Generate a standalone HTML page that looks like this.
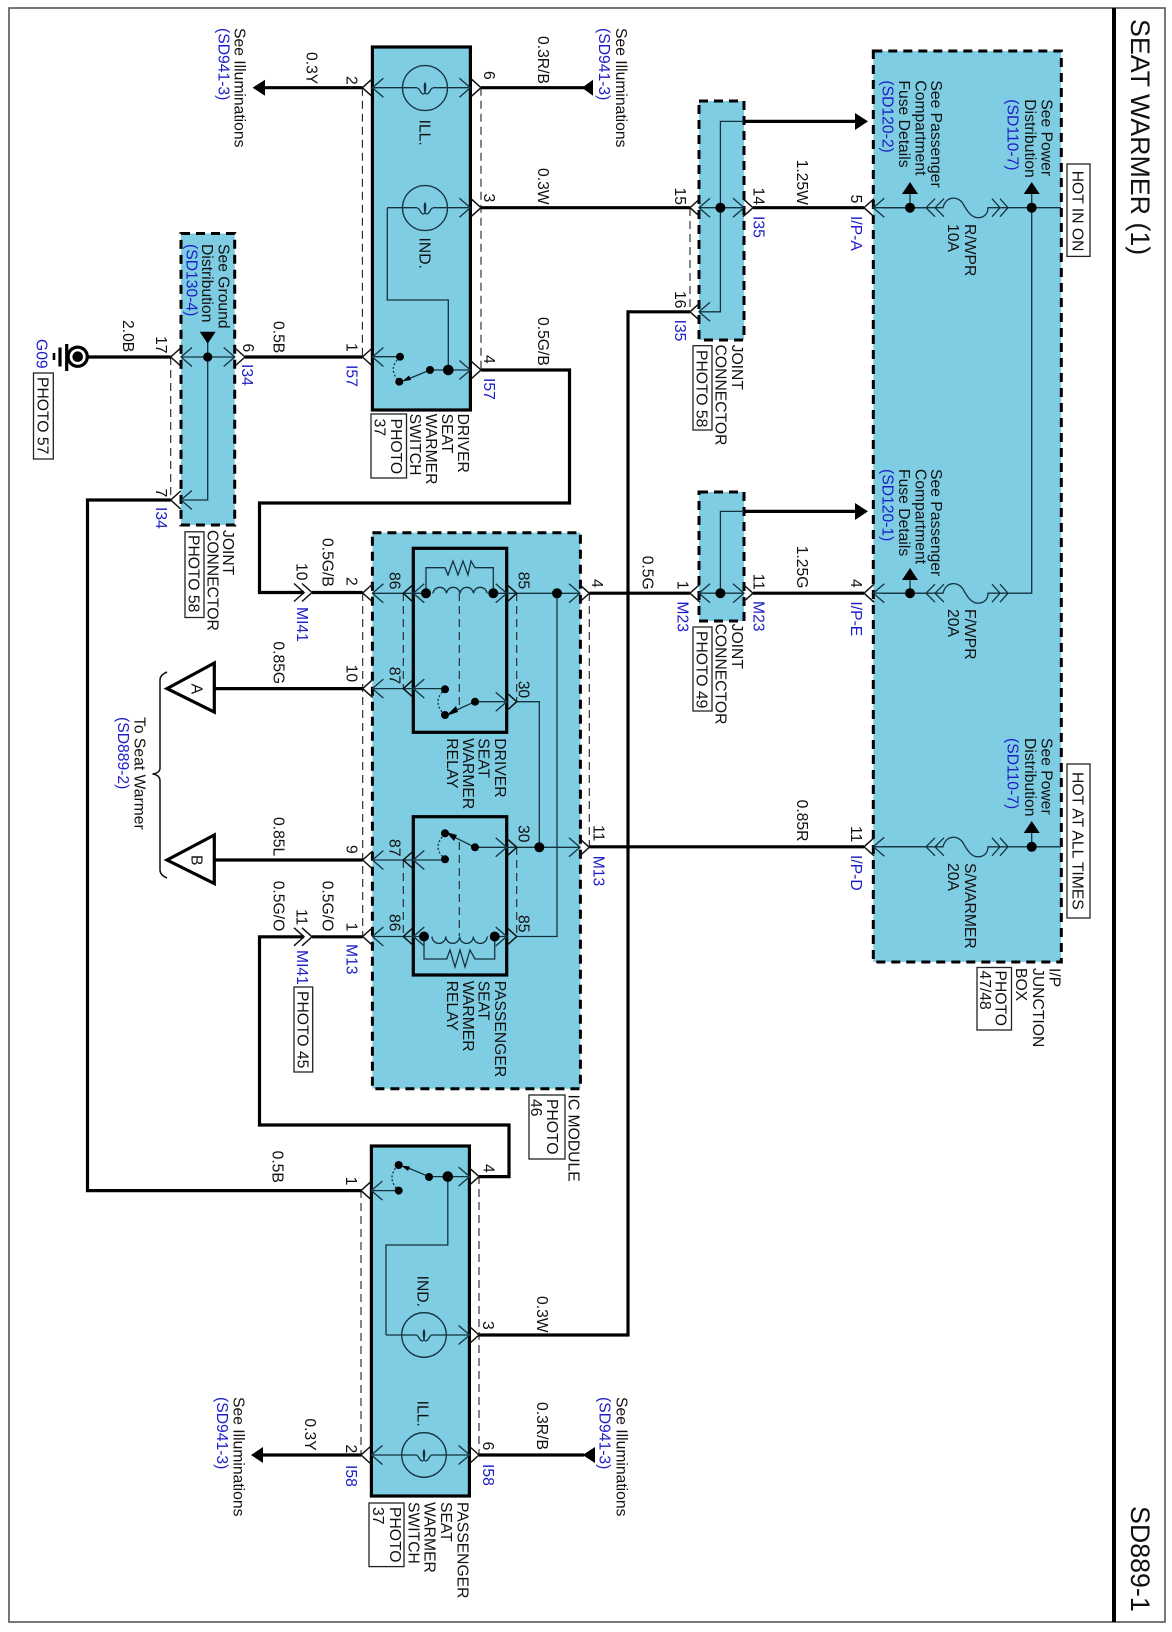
<!DOCTYPE html>
<html><head><meta charset="utf-8"><title>Seat Warmer (1)</title>
<style>
html,body{margin:0;padding:0;background:#fff}
svg{display:block}
text{font-family:"Liberation Sans",sans-serif;font-size:15.7px;fill:#111}
.b{fill:#1c1cc8}
text.h{font-size:26.8px}
.w{stroke:#000;stroke-width:3.2;fill:none}
.n{stroke:#15333f;stroke-width:1.3;fill:none}
.d{stroke:#222;stroke-width:1.1;fill:none;stroke-dasharray:8 5}
.x{stroke:#000;stroke-width:3;stroke-dasharray:9 6;fill:#7fcde3}
.s{stroke:#000;stroke-width:3.2;fill:#7fcde3}
.o{fill:none;stroke:#111;stroke-width:1.5}
.p{fill:none;stroke:#222;stroke-width:1.3}
.k{fill:#000}
.dt{fill:none;stroke:#15333f;stroke-width:1.3;stroke-dasharray:2 2}
</style></head><body>
<svg xmlns="http://www.w3.org/2000/svg" width="1172" height="1632" viewBox="0 0 1172 1632">
<defs>
<path id="R" class="o" d="M-10,-9L0,0L-10,9"/>
<path id="L" class="o" d="M10,-9L0,0L10,9"/>
<path id="r" class="n" d="M-11,-9.5L0,0L-11,9.5"/>
<path id="l" class="n" d="M11,-9.5L0,0L11,9.5"/>
<path id="tu" class="k" d="M-8,0L8,0L0,-12Z"/>
<path id="td" class="k" d="M-8,0L8,0L0,12Z"/>
<g id="fu">
<path class="n" d="M883,0H926M935,-9L926,0L935,9M944,-9L935,0L944,9M926,0H943C946,-12 958,-12 963,-4C968,5 972,10 978,10C985,10 988,5 988,0H1008M992,-9L1000,0L992,9M1000,-9L1008,0L1000,9"/>
</g>
<path id="lamp" class="n" d="M-8,0C-5,0 -5,6 -1.5,6C1,6 1,-5 0,-5C-1,-5 -1,6 1.5,6C5,6 5,0 8,0"/>
</defs>
<rect x="0" y="0" width="1172" height="1632" fill="#fff"/>
<!-- frame -->
<rect x="9" y="8" width="1156" height="1614" fill="none" stroke="#555" stroke-width="1.6"/>
<path d="M1114,8V1622" stroke="#000" stroke-width="4"/>
<text class="h" transform="translate(1131,19) rotate(90)">SEAT WARMER (1)</text>
<text class="h" transform="translate(1131,1506) rotate(90)">SD889-1</text>

<!-- component boxes -->
<rect class="s" x="372.4" y="47" width="98" height="363"/>
<rect class="s" x="371.4" y="1146" width="98" height="350"/>
<rect class="x" x="181" y="233.5" width="53.7" height="291.5"/>
<rect class="x" x="372.4" y="532.7" width="208" height="556"/>
<rect class="x" x="699" y="101" width="45" height="239"/>
<rect class="x" x="699" y="492" width="45" height="129"/>
<rect class="x" x="873.3" y="51" width="188" height="911"/>
<rect class="s" x="413.3" y="548.3" width="93.4" height="184"/>
<rect class="s" x="413.3" y="816.7" width="93.4" height="158.3"/>

<!-- dashed links -->
<path class="d" d="M362.4,87.7V357M481,87.7V370M170.7,357V500M362.7,593V936.5M589.3,593V847M403.3,593V688M516.7,593V701.7M403.3,860V936M516.7,847V936M459.3,593V708M459.3,842V936M690,208V312M361,1190V1455M479,1176V1455"/>

<!-- thick wires -->
<path class="w" d="M263,87.7H362.4M481,87.7H584M481,207.7H690M481,370H569.5V503H259.5V592.5H304M312,592.5H362.7"/>
<path class="w" d="M88,357H170.7M245,357H362.4M170.7,500H87.5V1190.6H361"/>
<path class="w" d="M215,688.6H362.7M215,860H362.7M312,936.8H362.7M304,936.8H259.5V1125H509V1176.6H479"/>
<path class="w" d="M589.3,593.2H690M753,593.2H864M589.3,846.8H864M753,207.7H864M690,311.8H628V1335H479"/>
<path class="w" d="M744,121.4H857M744,511.4H857M479,1455H584M261,1455H361"/>

<!-- arrowheads on wires -->
<path class="k" d="M252.6,87.7L265,79.7V95.7Z"/>
<path class="k" d="M582,87.7L593,79.7V95.7Z"/>
<path class="k" d="M251,1455L263,1447V1463Z"/>
<path class="k" d="M582.6,1455L595,1447V1463Z"/>
<path class="k" d="M868,121.4L855,113V130Z"/>
<path class="k" d="M868,511.4L855,503V520Z"/>

<!-- driver switch internals -->
<circle class="n" cx="425" cy="88" r="22.5"/><circle class="n" cx="425" cy="208" r="22.5"/>
<use href="#lamp" x="425" y="88"/><use href="#lamp" x="425" y="208"/>
<path class="n" d="M372.4,87.7H417M433,87.7H470.4M387.3,207.7H417M433,207.7H470.4M448.3,370V300H387.3V207.7M372.4,356.7H400M470.4,370H430L407,379.5"/>
<path class="dt" d="M400,357Q387,369 399,381"/>
<path class="k" d="M402,381.5L409,375.5L411,380Z"/>
<circle class="k" cx="448.3" cy="370" r="5.3"/><circle class="k" cx="430" cy="370" r="4"/><circle class="k" cx="399.3" cy="381.7" r="4"/><circle class="k" cx="400" cy="356.7" r="4"/>
<use href="#L" x="362.4" y="87.7"/><use href="#l" x="372.4" y="87.7"/><use href="#r" x="470.4" y="87.7"/><use href="#R" x="481" y="87.7"/>
<use href="#r" x="470.4" y="207.7"/><use href="#R" x="481" y="207.7"/>
<use href="#L" x="362.4" y="357"/><use href="#l" x="372.4" y="357"/><use href="#r" x="470.4" y="370"/><use href="#R" x="481" y="370"/>

<!-- passenger switch internals -->
<circle class="n" cx="424" cy="1335" r="22.3"/><circle class="n" cx="424" cy="1455" r="22.3"/>
<use href="#lamp" x="424" y="1335"/><use href="#lamp" x="424" y="1455"/>
<path class="n" d="M371.4,1455H416M432,1455H469.6M386,1335H416M432,1335H469.6M447.8,1176.6V1245H386V1335M371.4,1190.6H398.7M469.6,1176.6H429L407,1167.5"/>
<path class="dt" d="M398,1165Q386,1178 398,1190"/>
<path class="k" d="M401,1165.5L410,1166.5L408,1171Z"/>
<circle class="k" cx="447.8" cy="1176.6" r="5.3"/><circle class="k" cx="429" cy="1177" r="4"/><circle class="k" cx="398.7" cy="1165" r="4"/><circle class="k" cx="398.7" cy="1190.6" r="4"/>
<use href="#L" x="361" y="1455"/><use href="#l" x="371.4" y="1455"/><use href="#r" x="469.6" y="1455"/><use href="#R" x="479" y="1455"/>
<use href="#r" x="469.6" y="1335"/><use href="#R" x="479" y="1335"/>
<use href="#L" x="361" y="1190.6"/><use href="#l" x="371.4" y="1190.6"/><use href="#r" x="469.6" y="1176.6"/><use href="#R" x="479" y="1176.6"/>

<!-- ground joint -->
<path class="n" d="M181,357H234.7M207.7,343V500H181"/>
<use href="#td" x="207.7" y="331.7"/>
<circle class="k" cx="207.7" cy="357" r="4.6"/>
<use href="#L" x="170.7" y="357"/><use href="#l" x="181" y="357"/><use href="#r" x="234.7" y="357"/><use href="#R" x="245" y="357"/>
<use href="#L" x="170.7" y="500"/><use href="#l" x="181" y="500"/>
<circle cx="77.7" cy="356.7" r="9.6" fill="#fff" stroke="#000" stroke-width="3.2"/><circle class="k" cx="77.7" cy="356.7" r="5.3"/>
<path d="M66.7,344V371M60,347.5V366.5" stroke="#000" stroke-width="3.2"/><path d="M54,353V360" stroke="#000" stroke-width="2.6"/>

<!-- IC module relay 1 -->
<path class="n" d="M372.4,593.3H426M493.3,593.3H580M372.4,688.6H445M516.7,701.7H539.3V847.3M557,593.3V936.5H516.7M475,701.7H506.7M475,701.7L452,712"/>
<path class="n" d="M433,593.3a6.8,6.8 0 0 1 13.5,0a6.8,6.8 0 0 1 13.5,0a6.8,6.8 0 0 1 13.5,0a6.8,6.8 0 0 1 13.5,0"/>
<path class="n" d="M426,593V567.7H445L448,575L453,561L458,575L463,561L468,575L471,561L475,567.7H493.3V593"/>
<path class="dt" d="M445,689Q431,702 445,715"/>
<path class="k" d="M446,716L456,706L458,712Z"/>
<circle class="k" cx="426" cy="593.3" r="5"/><circle class="k" cx="493.3" cy="593.3" r="5"/><circle class="k" cx="557" cy="593.3" r="5"/>
<circle class="k" cx="445" cy="689.3" r="4"/><circle class="k" cx="445" cy="715" r="4"/><circle class="k" cx="475" cy="701.7" r="4"/>
<use href="#L" x="362.7" y="593"/><use href="#l" x="372.4" y="593.3"/><use href="#L" x="403.3" y="593.3"/><use href="#l" x="413.3" y="593.3"/>
<use href="#r" x="506.7" y="593.3"/><use href="#R" x="516.7" y="593.3"/><use href="#r" x="580" y="593.3"/><use href="#R" x="589.3" y="593.3"/>
<use href="#L" x="362.7" y="688.6"/><use href="#l" x="372.4" y="688.6"/><use href="#L" x="403.3" y="688.6"/><use href="#l" x="413.3" y="688.6"/>
<use href="#r" x="506.7" y="701.7"/><use href="#R" x="516.7" y="701.7"/>

<!-- IC module relay 2 -->
<path class="n" d="M372.4,936.5H424M494.7,936.5H506.7M372.4,860H445M475,847.3H580M475,847.3L452,836"/>
<path class="n" d="M432,936.5a6.9,6.9 0 0 0 13.8,0a6.9,6.9 0 0 0 13.8,0a6.9,6.9 0 0 0 13.8,0a6.9,6.9 0 0 0 13.8,0"/>
<path class="n" d="M424,937V959H446.7L450,950L455,967L460,950L465,967L470,950L475,959H494.7V937"/>
<path class="dt" d="M445,834Q431,847 445,859"/>
<path class="k" d="M446,832L457,835L454,841Z"/>
<circle class="k" cx="424" cy="936.5" r="5"/><circle class="k" cx="494.7" cy="936.5" r="5"/><circle class="k" cx="539.3" cy="847.3" r="5"/>
<circle class="k" cx="445" cy="833.3" r="4"/><circle class="k" cx="445" cy="859.3" r="4"/><circle class="k" cx="475" cy="847.3" r="4"/>
<use href="#L" x="362.7" y="860"/><use href="#l" x="372.4" y="860"/><use href="#L" x="403.3" y="860"/><use href="#l" x="413.3" y="860"/>
<use href="#L" x="362.7" y="936.5"/><use href="#l" x="372.4" y="936.5"/><use href="#L" x="403.3" y="936.5"/><use href="#l" x="413.3" y="936.5"/>
<use href="#r" x="506.7" y="847.3"/><use href="#R" x="516.7" y="847.3"/><use href="#r" x="580" y="847.3"/><use href="#R" x="589.3" y="847.3"/>
<use href="#r" x="506.7" y="936.5"/><use href="#R" x="516.7" y="936.5"/>

<!-- MI41 connectors -->
<use href="#R" x="304" y="592.5"/><use href="#R" x="312" y="592.5"/>
<use href="#R" x="304" y="936.8"/><use href="#R" x="312" y="936.8"/>

<!-- triangles A B, brace -->
<path d="M167,688.6L214.3,663V712Z" fill="#fff" stroke="#000" stroke-width="3.2"/>
<path d="M167,860L214.3,835V883.6Z" fill="#fff" stroke="#000" stroke-width="3.2"/>
<path class="o" d="M167,672Q160,675 160,680V768Q160,773 152.5,774Q160,775 160,781V870Q160,875 167,878"/>

<!-- joint I35 -->
<path class="n" d="M699,207.7H744M744,121.4H720.4V311.8H699"/>
<circle class="k" cx="720.4" cy="207.7" r="5"/>
<use href="#L" x="690" y="207.7"/><use href="#l" x="699" y="207.7"/><use href="#r" x="744" y="207.7"/><use href="#R" x="753" y="207.7"/>
<use href="#L" x="690" y="311.8"/><use href="#l" x="699" y="311.8"/>

<!-- joint M23 -->
<path class="n" d="M699,593.2H744M744,511.4H720.4V593.2"/>
<circle class="k" cx="720.4" cy="593.2" r="5"/>
<use href="#L" x="690" y="593.2"/><use href="#l" x="699" y="593.2"/><use href="#r" x="744" y="593.2"/><use href="#R" x="753" y="593.2"/>

<!-- I/P junction box -->
<use href="#fu" x="0" y="207.7"/><use href="#fu" x="0" y="593.2"/><use href="#fu" x="0" y="846.8"/>
<path class="n" d="M873.3,207.7H926M1008,207.7H1061M873.3,593.2H926M1008,593.2H1031.7V207.7M873.3,846.8H926M1008,846.8H1061M910,194V207M910,579V593M1031.7,194V207M1031.7,833V846"/>
<circle class="k" cx="910" cy="207.7" r="5"/><circle class="k" cx="1031.7" cy="207.7" r="5"/><circle class="k" cx="910" cy="593.2" r="5"/><circle class="k" cx="1031.7" cy="846.8" r="5"/>
<use href="#tu" x="910" y="194"/><use href="#tu" x="1031.7" y="194"/><use href="#tu" x="910" y="580"/><use href="#tu" x="1031.7" y="833"/>
<use href="#L" x="864" y="207.7"/><use href="#l" x="873.3" y="207.7"/>
<use href="#L" x="864" y="593.2"/><use href="#l" x="873.3" y="593.2"/>
<use href="#L" x="864" y="846.8"/><use href="#l" x="873.3" y="846.8"/>

<!-- photo boxes -->
<rect class="p" x="33.5" y="373" width="19.8" height="86" fill="#fff"/>
<rect class="p" x="185" y="531.8" width="19" height="85.7"/>
<rect class="p" x="371" y="414" width="35.5" height="64"/>
<rect class="p" x="369" y="1503" width="35" height="63.6"/>
<rect class="p" x="294" y="987" width="18.7" height="85"/>
<rect class="p" x="529" y="1095" width="36" height="64"/>
<rect class="p" x="693" y="345.7" width="19" height="84.3"/>
<rect class="p" x="693" y="627" width="19" height="84"/>
<rect class="p" x="977" y="967.5" width="34.5" height="62.5"/>
<rect class="p" x="1067" y="164" width="23" height="92.4"/>
<rect class="p" x="1067" y="764" width="23" height="154"/>

<!-- labels: top left -->
<text transform="translate(234.5,28) rotate(90)">See Illuminations</text>
<text class="b" transform="translate(218.5,28) rotate(90)">(SD941-3)</text>
<text transform="translate(616,28) rotate(90)">See Illuminations</text>
<text class="b" transform="translate(599,28) rotate(90)">(SD941-3)</text>
<text transform="translate(306.5,52) rotate(90)">0.3Y</text>
<text transform="translate(346.5,76) rotate(90)">2</text>
<text transform="translate(484,71) rotate(90)">6</text>
<text transform="translate(538,36) rotate(90)">0.3R/B</text>
<text transform="translate(538,168) rotate(90)">0.3W</text>
<text transform="translate(484,193.5) rotate(90)">3</text>
<text transform="translate(538,317) rotate(90)">0.5G/B</text>
<text transform="translate(484,355) rotate(90)">4</text>
<text class="b" transform="translate(484,378) rotate(90)">I57</text>
<text class="b" transform="translate(346.5,365) rotate(90)">I57</text>
<text transform="translate(346.5,343) rotate(90)">1</text>
<text transform="translate(273.6,321) rotate(90)">0.5B</text>
<text transform="translate(243,343.5) rotate(90)">6</text>
<text class="b" transform="translate(242,364) rotate(90)">I34</text>
<text transform="translate(156,336) rotate(90)">17</text>
<text transform="translate(123,320) rotate(90)">2.0B</text>
<text class="b" transform="translate(36.5,339) rotate(90)">G09</text>
<text transform="translate(37.5,377) rotate(90)">PHOTO 57</text>
<text transform="translate(156,488.5) rotate(90)">7</text>
<text class="b" transform="translate(156,507) rotate(90)">I34</text>
<text transform="translate(218.5,244) rotate(90)">See Ground</text>
<text transform="translate(202,244) rotate(90)">Distribution</text>
<text class="b" transform="translate(186.5,244) rotate(90)">(SD130-4)</text>
<text transform="translate(223,530) rotate(90)">JOINT</text>
<text transform="translate(207.5,530) rotate(90)">CONNECTOR</text>
<text transform="translate(188.5,535) rotate(90)">PHOTO 58</text>
<text transform="translate(419.5,119.6) rotate(90)">ILL.</text>
<text transform="translate(419.5,237.5) rotate(90)">IND.</text>
<text transform="translate(458,413.6) rotate(90)">DRIVER</text>
<text transform="translate(442,413.6) rotate(90)">SEAT</text>
<text transform="translate(426,413.6) rotate(90)">WARMER</text>
<text transform="translate(410,413.6) rotate(90)">SWITCH</text>
<text transform="translate(391,418.6) rotate(90)">PHOTO</text>
<text transform="translate(374.5,418.6) rotate(90)">37</text>

<!-- labels: IC module zone -->
<text transform="translate(296.6,563) rotate(90)">10</text>
<text transform="translate(322.6,538) rotate(90)">0.5G/B</text>
<text class="b" transform="translate(297,607) rotate(90)">MI41</text>
<text transform="translate(346.5,577) rotate(90)">2</text>
<text transform="translate(389.5,572) rotate(90)">86</text>
<text transform="translate(518.3,571.7) rotate(90)">85</text>
<text transform="translate(389.5,666.7) rotate(90)">87</text>
<text transform="translate(518.3,680.7) rotate(90)">30</text>
<text transform="translate(495,738.3) rotate(90)">DRIVER</text>
<text transform="translate(478.5,738.3) rotate(90)">SEAT</text>
<text transform="translate(463,738.3) rotate(90)">WARMER</text>
<text transform="translate(447,738.3) rotate(90)">RELAY</text>
<text transform="translate(518.3,825) rotate(90)">30</text>
<text transform="translate(389.5,839) rotate(90)">87</text>
<text transform="translate(389.5,914) rotate(90)">86</text>
<text transform="translate(518.3,915) rotate(90)">85</text>
<text transform="translate(495,980.7) rotate(90)">PASSENGER</text>
<text transform="translate(478.5,980.7) rotate(90)">SEAT</text>
<text transform="translate(463,980.7) rotate(90)">WARMER</text>
<text transform="translate(447,980.7) rotate(90)">RELAY</text>
<text transform="translate(346.5,664.6) rotate(90)">10</text>
<text transform="translate(191.5,683.6) rotate(90)">A</text>
<text transform="translate(273.6,641.4) rotate(90)">0.85G</text>
<text transform="translate(346.5,845) rotate(90)">9</text>
<text transform="translate(191.5,855) rotate(90)">B</text>
<text transform="translate(273.6,817) rotate(90)">0.85L</text>
<text transform="translate(346.5,922.5) rotate(90)">1</text>
<text class="b" transform="translate(346.5,944) rotate(90)">M13</text>
<text transform="translate(322.6,880.7) rotate(90)">0.5G/O</text>
<text transform="translate(273.6,880.7) rotate(90)">0.5G/O</text>
<text transform="translate(296.6,909) rotate(90)">11</text>
<text class="b" transform="translate(297,950) rotate(90)">MI41</text>
<text transform="translate(297.6,991) rotate(90)">PHOTO 45</text>
<text transform="translate(134.5,717) rotate(90)">To Seat Warmer</text>
<text class="b" transform="translate(118,717) rotate(90)">(SD889-2)</text>
<text transform="translate(592,579) rotate(90)">4</text>
<text transform="translate(593.5,825) rotate(90)">11</text>
<text class="b" transform="translate(593.5,855.7) rotate(90)">M13</text>
<text transform="translate(568.5,1094.5) rotate(90)">IC MODULE</text>
<text transform="translate(547,1099) rotate(90)">PHOTO</text>
<text transform="translate(531,1099) rotate(90)">46</text>

<!-- labels: joints -->
<text transform="translate(642.3,555.7) rotate(90)">0.5G</text>
<text transform="translate(677.5,580.7) rotate(90)">1</text>
<text class="b" transform="translate(677.5,601.4) rotate(90)">M23</text>
<text transform="translate(753.6,573.6) rotate(90)">11</text>
<text class="b" transform="translate(753.6,601) rotate(90)">M23</text>
<text transform="translate(797,545.7) rotate(90)">1.25G</text>
<text transform="translate(732,623.6) rotate(90)">JOINT</text>
<text transform="translate(715.5,623.6) rotate(90)">CONNECTOR</text>
<text transform="translate(696.5,631) rotate(90)">PHOTO 49</text>
<text transform="translate(675,187.5) rotate(90)">15</text>
<text transform="translate(753.6,187.5) rotate(90)">14</text>
<text class="b" transform="translate(753.6,216) rotate(90)">I35</text>
<text transform="translate(675,291) rotate(90)">16</text>
<text class="b" transform="translate(675,319.6) rotate(90)">I35</text>
<text transform="translate(797,159.6) rotate(90)">1.25W</text>
<text transform="translate(732,344.6) rotate(90)">JOINT</text>
<text transform="translate(715.5,344.6) rotate(90)">CONNECTOR</text>
<text transform="translate(696.5,350) rotate(90)">PHOTO 58</text>

<!-- labels: junction box -->
<text transform="translate(851,194.6) rotate(90)">5</text>
<text class="b" transform="translate(851,216) rotate(90)">I/P-A</text>
<text transform="translate(851,579) rotate(90)">4</text>
<text class="b" transform="translate(851,601.4) rotate(90)">I/P-E</text>
<text transform="translate(851,826) rotate(90)">11</text>
<text class="b" transform="translate(851,855) rotate(90)">I/P-D</text>
<text transform="translate(797,799.6) rotate(90)">0.85R</text>
<text transform="translate(965,224) rotate(90)">R/WPR</text>
<text transform="translate(948,224) rotate(90)">10A</text>
<text transform="translate(965,609) rotate(90)">F/WPR</text>
<text transform="translate(948,609) rotate(90)">20A</text>
<text transform="translate(965,863) rotate(90)">S/WARMER</text>
<text transform="translate(948,863) rotate(90)">20A</text>
<text transform="translate(931,80.4) rotate(90)">See Passenger</text>
<text transform="translate(915.5,80.4) rotate(90)">Compartment</text>
<text transform="translate(899,80.4) rotate(90)">Fuse Details</text>
<text class="b" transform="translate(882.5,80.4) rotate(90)">(SD120-2)</text>
<text transform="translate(931,469) rotate(90)">See Passenger</text>
<text transform="translate(915.5,469) rotate(90)">Compartment</text>
<text transform="translate(899,469) rotate(90)">Fuse Details</text>
<text class="b" transform="translate(882.5,469) rotate(90)">(SD120-1)</text>
<text transform="translate(1041.5,99.3) rotate(90)">See Power</text>
<text transform="translate(1025,99.3) rotate(90)">Distribution</text>
<text class="b" transform="translate(1007.5,99.3) rotate(90)">(SD110-7)</text>
<text transform="translate(1041.5,738) rotate(90)">See Power</text>
<text transform="translate(1025,738) rotate(90)">Distribution</text>
<text class="b" transform="translate(1007.5,738) rotate(90)">(SD110-7)</text>
<text transform="translate(1072.5,170.7) rotate(90)">HOT IN ON</text>
<text transform="translate(1072.5,772) rotate(90)">HOT AT ALL TIMES</text>
<text transform="translate(1049.5,968) rotate(90)">I/P</text>
<text transform="translate(1033,968) rotate(90)">JUNCTION</text>
<text transform="translate(1016,968) rotate(90)">BOX</text>
<text transform="translate(995.5,970.5) rotate(90)">PHOTO</text>
<text transform="translate(980,970.5) rotate(90)">47/48</text>

<!-- labels: passenger switch -->
<text transform="translate(346,1176.6) rotate(90)">1</text>
<text transform="translate(272.5,1150.6) rotate(90)">0.5B</text>
<text transform="translate(483.5,1164) rotate(90)">4</text>
<text transform="translate(483,1321) rotate(90)">3</text>
<text transform="translate(537,1296) rotate(90)">0.3W</text>
<text transform="translate(483,1441.6) rotate(90)">6</text>
<text class="b" transform="translate(483,1464) rotate(90)">I58</text>
<text transform="translate(537,1402) rotate(90)">0.3R/B</text>
<text transform="translate(616.5,1397) rotate(90)">See Illuminations</text>
<text class="b" transform="translate(599.5,1397) rotate(90)">(SD941-3)</text>
<text transform="translate(305,1418.4) rotate(90)">0.3Y</text>
<text transform="translate(346,1444.5) rotate(90)">2</text>
<text class="b" transform="translate(346,1465) rotate(90)">I58</text>
<text transform="translate(233.5,1397) rotate(90)">See Illuminations</text>
<text class="b" transform="translate(217,1397) rotate(90)">(SD941-3)</text>
<text transform="translate(417.5,1275.6) rotate(90)">IND.</text>
<text transform="translate(417.5,1400.6) rotate(90)">ILL.</text>
<text transform="translate(457.6,1502) rotate(90)">PASSENGER</text>
<text transform="translate(441,1502) rotate(90)">SEAT</text>
<text transform="translate(424.5,1502) rotate(90)">WARMER</text>
<text transform="translate(408.5,1502) rotate(90)">SWITCH</text>
<text transform="translate(390,1507) rotate(90)">PHOTO</text>
<text transform="translate(373,1507) rotate(90)">37</text>
</svg>
</body></html>
